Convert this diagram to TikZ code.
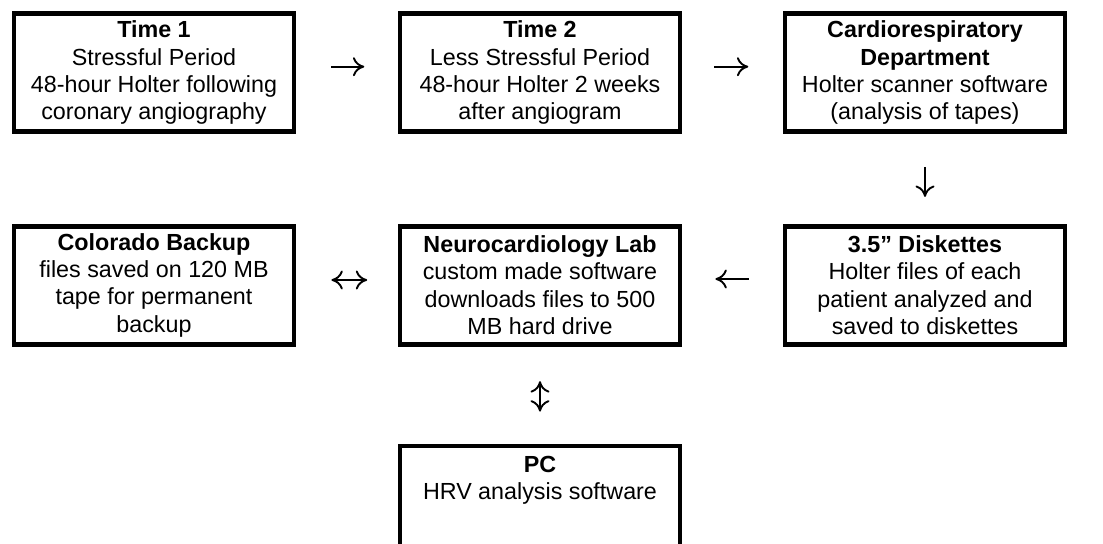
\documentclass[tikz,border=0pt]{standalone}
\usepackage{fontspec}
\setmainfont{Liberation Sans}
\usetikzlibrary{arrows.meta}
\begin{document}
\begin{tikzpicture}[x=1bp,y=-1bp,
  box/.style={draw=black, line width=4.8bp, minimum width=280bp, minimum height=118bp,
    inner sep=0pt, align=center, font=\fontsize{23.3bp}{27.3bp}\selectfont},
  conn/.style={line width=1.9bp, line cap=butt},
  >={Computer Modern Rightarrow[length=11.4bp,width=19bp,line width=1.9bp]}]
\useasboundingbox (0,0) rectangle (1103,544);
\clip (0,0) rectangle (1103,544);
\fill[white] (0,0) rectangle (1103,544);
\node[box] (t1) at (154,72.9) {\textbf{Time 1}\\Stressful Period\\48-hour Holter following\\coronary angiography};
\node[box] (t2) at (540,72.9) {\textbf{Time 2}\\Less Stressful Period\\48-hour Holter 2 weeks\\after angiogram};
\node[box] (cd) at (925,72.9) {\textbf{Cardiorespiratory}\\\textbf{Department}\\Holter scanner software\\(analysis of tapes)};
\node[box] (cb) at (154,285.3) {\textbf{Colorado Backup}\\files saved on 120 MB\\tape for permanent\\backup};
\node[box] (nl) at (540,285.3) {\textbf{Neurocardiology Lab}\\custom made software\\downloads files to 500\\MB hard drive};
\node[box] (dk) at (925,285.3) {\textbf{3.5” Diskettes}\\Holter files of each\\patient analyzed and\\saved to diskettes};
\node[box] (pc) at (540,505) {\textbf{PC}\\HRV analysis software\\\mbox{}\\\mbox{}};
\draw[conn,->,shorten <=35bp,shorten >=33.3bp] ([yshift=6.2bp]t1.east) -- ([yshift=6.2bp]t2.west);
\draw[conn,->,shorten <=32bp,shorten >=34.3bp] ([yshift=6.2bp]t2.east) -- ([yshift=6.2bp]cd.west);
\draw[conn,->,shorten <=32.6bp,shorten >=27bp] (cd.south) -- (dk.north);
\draw[conn,->,shorten <=34bp,shorten >=33bp] ([yshift=6.3bp]dk.west) -- ([yshift=6.3bp]nl.east);
\draw[conn,<->,shorten <=35bp,shorten >=30.4bp] ([yshift=5.3bp]cb.east) -- ([yshift=5.3bp]nl.west);
\draw[conn,<->,shorten <=34.5bp,shorten >=32bp] (nl.south) -- (pc.north);
\end{tikzpicture}
\end{document}
